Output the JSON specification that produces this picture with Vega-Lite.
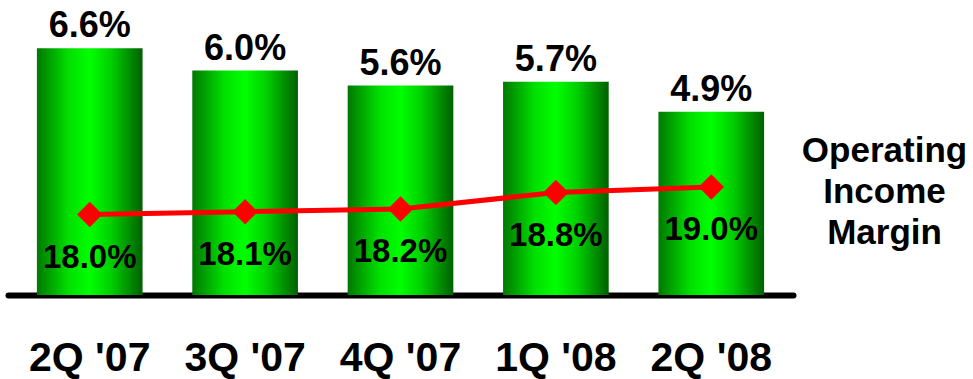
{
  "$schema": "https://vega.github.io/schema/vega-lite/v6.json",
  "autosize": {"type": "none"},
  "width": 785,
  "height": 285,
  "padding": {"left": 8, "top": 10, "right": 180, "bottom": 84},
  "background": "white",
  "config": {
    "view": {"stroke": null},
    "font": "Liberation Sans",
    "text": {"font": "Liberation Sans", "fontWeight": "bold", "color": "black"}
  },
  "data": {
    "values": [
      {"quarter": "2Q '07", "growth": 6.6, "growthLabel": "6.6%", "margin": 18.0, "marginLabel": "18.0%"},
      {"quarter": "3Q '07", "growth": 6.0, "growthLabel": "6.0%", "margin": 18.1, "marginLabel": "18.1%"},
      {"quarter": "4Q '07", "growth": 5.6, "growthLabel": "5.6%", "margin": 18.2, "marginLabel": "18.2%"},
      {"quarter": "1Q '08", "growth": 5.7, "growthLabel": "5.7%", "margin": 18.8, "marginLabel": "18.8%"},
      {"quarter": "2Q '08", "growth": 4.9, "growthLabel": "4.9%", "margin": 19.0, "marginLabel": "19.0%"}
    ]
  },
  "encoding": {
    "x": {
      "field": "quarter",
      "type": "nominal",
      "sort": null,
      "scale": {"paddingInner": 0.32, "paddingOuter": 0.186},
      "axis": {
        "title": null,
        "labelAngle": 0,
        "labelFont": "Liberation Sans",
        "labelFontWeight": "bold",
        "labelFontSize": 41,
        "labelColor": "black",
        "labelBaseline": "alphabetic",
        "labelPadding": 75,
        "ticks": false,
        "domainColor": "black",
        "domainWidth": 6,
        "domainCap": "round",
        "grid": false
      }
    }
  },
  "layer": [
    {
      "encoding": {
        "y": {"field": "growth", "type": "quantitative", "scale": {"domain": [0, 7.62], "nice": false, "zero": true}, "axis": null}
      },
      "layer": [
        {
          "mark": {
            "type": "bar",
            "color": {
              "gradient": "linear",
              "x1": 0, "y1": 0, "x2": 1, "y2": 0,
              "stops": [
                {"offset": 0, "color": "#007800"},
                {"offset": 0.3, "color": "#00e000"},
                {"offset": 0.5, "color": "#00ff00"},
                {"offset": 0.7, "color": "#00d000"},
                {"offset": 1, "color": "#006000"}
              ]
            }
          }
        },
        {
          "mark": {"type": "text", "baseline": "alphabetic", "dy": -11, "fontSize": 36},
          "encoding": {"text": {"field": "growthLabel"}}
        }
      ]
    },
    {
      "encoding": {
        "y": {
          "field": "margin",
          "type": "quantitative",
          "scale": {"domain": [15.073, 25.437], "nice": false, "zero": false},
          "axis": {
            "orient": "right",
            "labels": false,
            "ticks": false,
            "domain": false,
            "grid": false,
            "title": ["Operating", "Income", "Margin"],
            "titleAngle": 0,
            "titleAlign": "center",
            "titleBaseline": "alphabetic",
            "titleFont": "Liberation Sans",
            "titleFontWeight": "bold",
            "titleFontSize": 35,
            "titleColor": "black",
            "titleLineHeight": 41,
            "titleX": 91,
            "titleY": 151
          }
        }
      },
      "layer": [
        {
          "mark": {"type": "line", "color": "#ff0000", "strokeWidth": 5}
        },
        {
          "mark": {"type": "point", "shape": "diamond", "filled": true, "color": "#ff0000", "size": 650, "opacity": 1}
        },
        {
          "mark": {"type": "text", "baseline": "middle", "dy": 43, "fontSize": 33},
          "encoding": {"text": {"field": "marginLabel"}}
        }
      ]
    }
  ],
  "resolve": {"scale": {"y": "independent"}}
}
